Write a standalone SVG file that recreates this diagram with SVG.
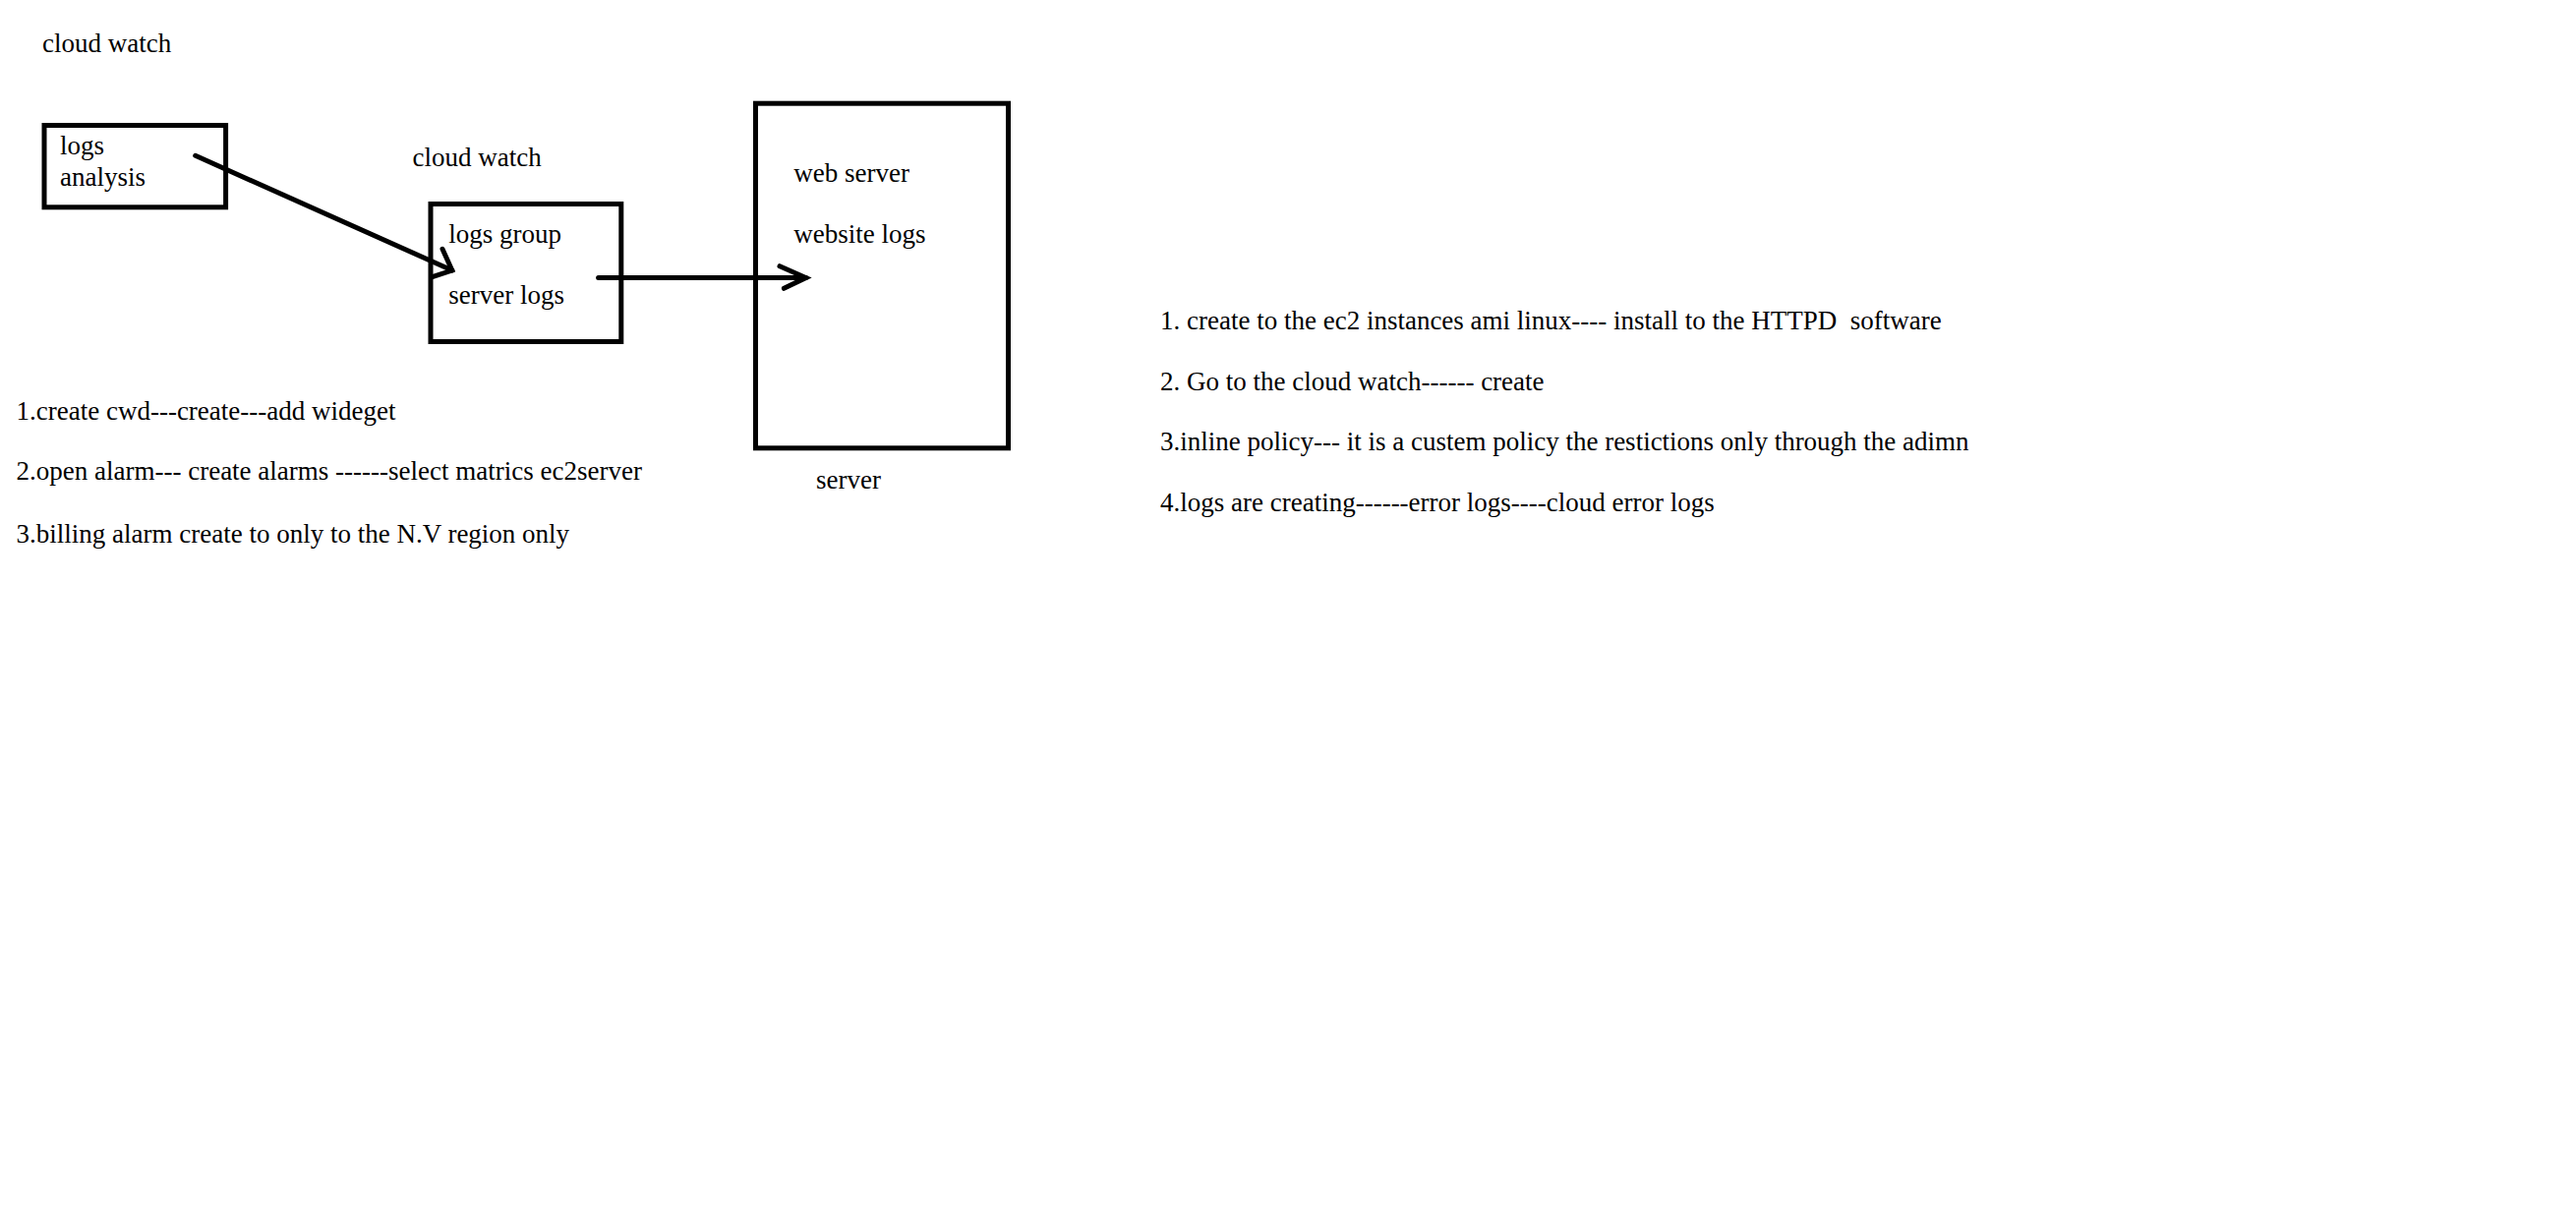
<svg xmlns="http://www.w3.org/2000/svg" width="2620" height="1244" viewBox="0 0 2620 1244">
<style>
  text { font-family: "Liberation Serif", "Times New Roman", serif; font-size: 27px; fill: #000; }
  .box { fill: none; stroke: #000; stroke-width: 5; }
  .conn { fill: none; stroke: #000; stroke-width: 5; stroke-linecap: round; stroke-linejoin: miter; }
</style>
<rect width="2620" height="1244" fill="#fff"/>
<g id="title-cloudwatch"><text x="43" y="53">cloud watch</text></g>
<g id="node-logs-analysis">
  <rect class="box" x="45" y="127.5" width="184.6" height="83.3"/>
  <text x="61" y="156.5">logs</text>
  <text x="61" y="188.5">analysis</text>
</g>
<g id="label-cloudwatch2"><text x="419.5" y="169">cloud watch</text></g>
<g id="node-logs-group">
  <rect class="box" x="438" y="207.5" width="193.8" height="140"/>
  <text x="456.3" y="246.7">logs group</text>
  <text x="456.3" y="308.8">server logs</text>
</g>
<g id="node-server">
  <rect class="box" x="768.5" y="105.2" width="257" height="350.6"/>
  <text x="807.2" y="185">web server</text>
  <text x="807.2" y="246.7">website logs</text>
  <text x="830" y="497">server</text>
</g>
<g id="connectors">
  <path class="conn" d="M198.7,158.3 L459.8,275"/>
  <path class="conn" d="M450,253.3 L459.8,275 L439.7,281.7"/>
  <path class="conn" d="M608.6,282.5 L819.7,282.5"/>
  <path class="conn" d="M793,270.7 L819.7,282.5 L797.4,293.3"/>
</g>
<g id="notes-left">
  <text x="16.5" y="426.7">1.create cwd---create---add wideget</text>
  <text x="16.5" y="488.3">2.open alarm--- create alarms ------select matrics ec2server</text>
  <text x="16.5" y="551.7">3.billing alarm create to only to the N.V region only</text>
</g>
<g id="notes-right">
  <text x="1180" y="335" xml:space="preserve">1. create to the ec2 instances ami linux---- install to the HTTPD  software</text>
  <text x="1180" y="396.7">2. Go to the cloud watch------ create</text>
  <text x="1180" y="458.3">3.inline policy--- it is a custem policy the restictions only through the adimn</text>
  <text x="1180" y="520">4.logs are creating------error logs----cloud error logs</text>
</g>
</svg>
